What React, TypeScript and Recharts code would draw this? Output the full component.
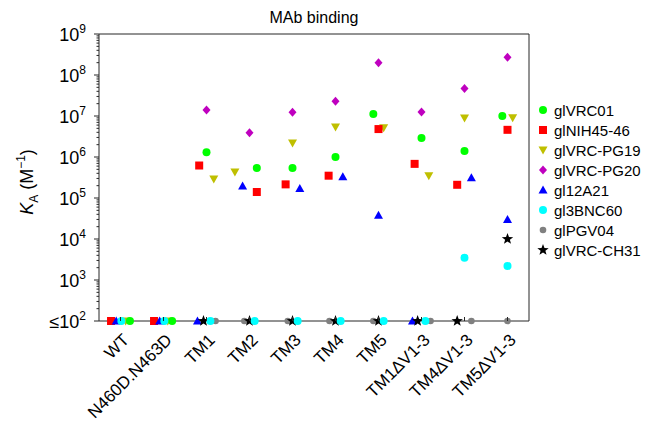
import React from 'react';
import { ScatterChart, Scatter, XAxis, YAxis, ReferenceArea, Legend } from 'recharts';

const categories = ['WT', 'N460D.N463D', 'TM1', 'TM2', 'TM3', 'TM4', 'TM5', 'TM1\u0394V1-3', 'TM4\u0394V1-3', 'TM5\u0394V1-3'];
const xTicks = [1, 2, 3, 4, 5, 6, 7, 8, 9, 10];

// K_A values (M^-1); 100 means "<=10^2"; null = not drawn
const glVRC01 = [100, 100, 1.3e6, 5.4e5, 5.4e5, 1.0e6, 1.12e7, 2.9e6, 1.4e6, 1.0e7];
const glNIH4546 = [100, 100, 6.2e5, 1.4e5, 2.15e5, 3.5e5, 4.8e6, 6.8e5, 2.1e5, 4.6e6];
const glVRCPG19 = [100, 100, 2.9e5, 4.3e5, 2.2e6, 5.4e6, 5.2e6, 3.5e5, 8.9e6, 9.1e6];
const glVRCPG20 = [null, null, 1.4e7, 3.9e6, 1.24e7, 2.3e7, 2.0e8, 1.26e7, 4.7e7, 2.7e8];
const gl12A21 = [100, 100, 100, 1.95e5, 1.7e5, 3.3e5, 3.8e4, 100, 3.1e5, 3.0e4];
const gl3BNC60 = [100, 100, 100, 100, 100, 100, 100, 100, 3.5e3, 2.2e3];
const glPGV04 = [null, null, 100, 100, 100, 100, 100, 100, 100, 100];
const glVRCCH31 = [null, null, 100, 100, 100, 100, 100, 100, 100, 1.0e4];

// horizontal jitter within each category (category units)
const jVRC01 = [0.22, 0.2, 0, 0.17, 0, 0, -0.12, 0, 0, -0.12];
const jNIH4546 = [-0.22, -0.22, -0.17, 0.17, -0.16, -0.16, 0, -0.16, -0.17, 0];
const jPG19 = [0.12, 0.1, 0.17, -0.34, 0, 0, 0.12, 0.17, 0, 0.12];
const jPG20 = [0, 0, 0, 0, 0, 0, 0, 0, 0, 0];
const j12A21 = [-0.1, -0.09, -0.21, -0.16, 0.17, 0.17, 0, -0.21, 0.16, 0];
const j3BNC60 = [0.02, 0.02, 0.09, 0.12, 0.12, 0.12, 0.12, 0.09, 0, 0];
const jPGV04 = [0, 0, 0.21, -0.12, -0.11, -0.14, -0.12, 0.21, 0.16, 0];
const jCH31 = [0, 0, -0.07, 0, 0, 0, 0, -0.09, -0.17, 0];

const FONT = '"Liberation Sans", Arial, Helvetica, sans-serif';
const AXIS = '#262626';

type Kind = 'circle' | 'square' | 'tridown' | 'diamond' | 'triup' | 'small' | 'star';

const series = [
  { name: 'glVRC01', values: glVRC01, jitter: jVRC01, color: '#00ff00', kind: 'circle' as Kind },
  { name: 'glNIH45-46', values: glNIH4546, jitter: jNIH4546, color: '#ff0000', kind: 'square' as Kind },
  { name: 'glVRC-PG19', values: glVRCPG19, jitter: jPG19, color: '#bfbf00', kind: 'tridown' as Kind },
  { name: 'glVRC-PG20', values: glVRCPG20, jitter: jPG20, color: '#bf00bf', kind: 'diamond' as Kind },
  { name: 'gl12A21', values: gl12A21, jitter: j12A21, color: '#0000ff', kind: 'triup' as Kind },
  { name: 'gl3BNC60', values: gl3BNC60, jitter: j3BNC60, color: '#00ffff', kind: 'circle' as Kind },
  { name: 'glPGV04', values: glPGV04, jitter: jPGV04, color: '#808080', kind: 'small' as Kind },
  { name: 'glVRC-CH31', values: glVRCCH31, jitter: jCH31, color: '#000000', kind: 'star' as Kind },
];

const drawOrder = [2, 0, 1, 3, 4, 6, 7, 5];

function starPoints(cx: number, cy: number, ro: number, ri: number) {
  const pts: string[] = [];
  for (let i = 0; i < 10; i++) {
    const r = i % 2 === 0 ? ro : ri;
    const a = -Math.PI / 2 + (i * Math.PI) / 5;
    pts.push(`${cx + r * Math.cos(a)},${cy + r * Math.sin(a)}`);
  }
  return pts.join(' ');
}

function Marker({ kind, color, cx, cy }: { kind: Kind; color: string; cx: number; cy: number }) {
  switch (kind) {
    case 'circle':
      return <circle cx={cx} cy={cy} r={4} fill={color} />;
    case 'small':
      return <circle cx={cx} cy={cy} r={3.3} fill={color} />;
    case 'square':
      return <rect x={cx - 4} y={cy - 4} width={8} height={8} fill={color} />;
    case 'tridown':
      return <polygon points={`${cx - 4.5},${cy - 3.5} ${cx + 4.5},${cy - 3.5} ${cx},${cy + 4.5}`} fill={color} />;
    case 'triup':
      return <polygon points={`${cx - 4.5},${cy + 3.5} ${cx + 4.5},${cy + 3.5} ${cx},${cy - 4.5}`} fill={color} />;
    case 'diamond':
      return <polygon points={`${cx},${cy - 4.5} ${cx + 4},${cy} ${cx},${cy + 4.5} ${cx - 4},${cy}`} fill={color} />;
    case 'star':
      return <polygon points={starPoints(cx, cy, 6, 2.5)} fill={color} />;
  }
  return null;
}

const XTick = (props: any) => {
  const { x, y, payload } = props;
  const label = categories[payload.value - 1];
  return (
    <g>
      <line x1={x} x2={x} y1={y} y2={y - 4} stroke={AXIS} />
      <text
        x={0}
        y={0}
        transform={`translate(${x + 9.5},${y + 20}) rotate(-45)`}
        textAnchor="end"
        fontSize={17}
        fontFamily={FONT}
        fill="#000"
      >
        {label}
      </text>
    </g>
  );
};

const YTick = (props: any) => {
  const { x, y, payload } = props;
  const v = payload.value as number;
  const lg = Math.log10(v);
  const e = Math.round(lg);
  const major = Math.abs(lg - e) < 1e-6;
  return (
    <g>
      <line x1={x - (major ? 5 : 2.5)} x2={x} y1={y} y2={y} stroke={AXIS} />
      {major && (
        <text x={x - 13} y={y + 6.5} textAnchor="end" fontSize={18} fontFamily={FONT} fill="#000">
          {e === 2 ? '\u226410' : '10'}
          <tspan dy={-8} fontSize={12}>{e}</tspan>
        </text>
      )}
    </g>
  );
};

const YLabel = () => (
  <text transform="translate(33,182) rotate(-90)" textAnchor="middle" fontSize={18} fontFamily={FONT} fill="#000">
    <tspan fontStyle="italic">K</tspan>
    <tspan dy={5} fontSize={12}>A</tspan>
    <tspan dy={-5}> (M</tspan>
    <tspan dy={-8} fontSize={12}>{'\u22121'}</tspan>
    <tspan dy={8}>)</tspan>
  </text>
);

const LegendBox = () => (
  <div style={{ fontFamily: FONT, fontSize: 15, color: '#000' }}>
    {series.map((s) => (
      <div key={s.name} style={{ display: 'flex', alignItems: 'center', height: 20 }}>
        <svg width={16} height={16} style={{ display: 'block' }}>
          <Marker kind={s.kind} color={s.color} cx={7} cy={8} />
        </svg>
        <span style={{ marginLeft: 2, whiteSpace: 'nowrap' }}>{s.name}</span>
      </div>
    ))}
  </div>
);

const yTicks: number[] = [];
for (let d = 2; d < 9; d++) {
  for (let m = 1; m < 10; m++) yTicks.push(m * Math.pow(10, d));
}
yTicks.push(1e9);

export default function App() {
  return (
    <div style={{ position: 'absolute', left: 0, top: 0, width: 662, height: 425, background: '#fff' }}>
      <div
        style={{
          position: 'absolute',
          left: 164,
          width: 300,
          top: 9,
          textAlign: 'center',
          fontFamily: FONT,
          fontSize: 16,
          color: '#000',
        }}
      >
        MAb binding
      </div>
      <ScatterChart width={662} height={425} margin={{ top: 34, right: 133, bottom: 0, left: 0 }}>
        <XAxis
          type="number"
          dataKey="x"
          domain={[0.5, 10.5]}
          ticks={xTicks}
          interval={0}
          tick={<XTick />}
          tickLine={false}
          axisLine={false}
          tickSize={0}
          tickMargin={0}
          height={104}
        />
        <YAxis
          type="number"
          dataKey="y"
          scale="log"
          domain={[100, 1e9]}
          ticks={yTicks}
          interval={0}
          tick={<YTick />}
          tickLine={false}
          axisLine={false}
          tickSize={0}
          tickMargin={0}
          width={99}
          label={<YLabel />}
        />
        <ReferenceArea x1={0.5} x2={10.5} y1={100} y2={1e9} fill="none" stroke={AXIS} strokeWidth={1} ifOverflow="visible" />
        {drawOrder.map((si) => {
          const s = series[si];
          const data = s.values
            .map((v, i) => (v == null ? null : { x: i + 1 + s.jitter[i], y: v }))
            .filter((d) => d != null);
          return (
            <Scatter
              key={s.name}
              name={s.name}
              data={data as any}
              isAnimationActive={false}
              shape={(p: any) => <Marker kind={s.kind} color={s.color} cx={p.cx} cy={p.cy} />}
            />
          );
        })}
        <Legend
          layout="vertical"
          align="center"
          verticalAlign="middle"
          wrapperStyle={{ left: 536, top: 100, width: 126 }}
          content={() => <LegendBox />}
        />
      </ScatterChart>
    </div>
  );
}
